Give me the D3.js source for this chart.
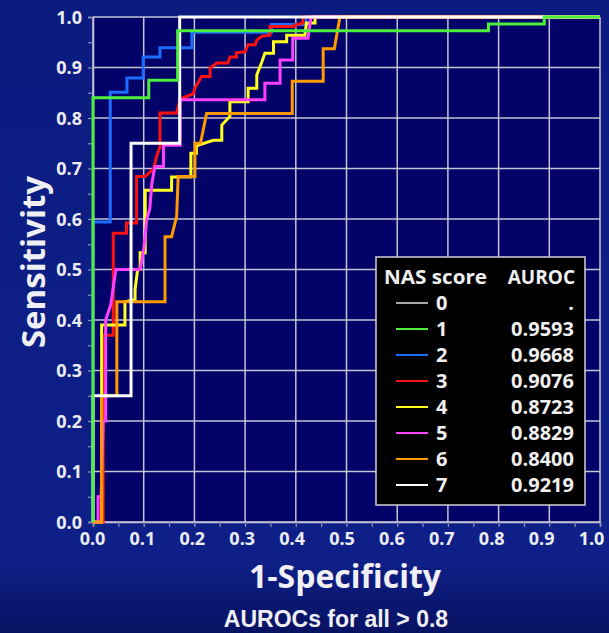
<!DOCTYPE html>
<html>
<head>
<meta charset="utf-8">
<script src="https://cdn.jsdelivr.net/npm/d3@7"></script>
<style>
html,body{margin:0;padding:0;background:#0b1a78;}
svg{display:block;}
</style>
</head>
<body>
<svg id="chart" width="609" height="633" font-family="'Open Sans','DejaVu Sans',sans-serif"></svg>
<script>
// ---------- data ----------
const xTicks = [0,0.1,0.2,0.3,0.4,0.5,0.6,0.7,0.8,0.9,1.0];
const yTicks = [0,0.1,0.2,0.3,0.4,0.5,0.6,0.7,0.8,0.9,1.0];
const nasScores = ["0","1","2","3","4","5","6","7"];
const aurocLabels = [".","0.9593","0.9668","0.9076","0.8723","0.8829","0.8400","0.9219"];
const seriesColors = ["#a8a8a8","#4cf03c","#1c6cff","#ff1010","#ffff20","#ff40ff","#ff9a00","#ffffff"];

const nas0 = [];
const nas1 = [[0,0],[0,0.84],[0.11,0.84],[0.11,0.875],[0.167,0.875],[0.167,0.973],[0.78,0.973],[0.78,0.986],[0.89,0.986],[0.89,1],[1,1]];
const nas2 = [[0,0],[0,0.594],[0.034,0.594],[0.034,0.851],[0.067,0.851],[0.067,0.879],[0.099,0.879],[0.099,0.921],[0.132,0.921],[0.132,0.939],[0.195,0.939],[0.195,0.970],[0.352,0.970],[0.352,0.985],[0.42,0.985],[0.42,1],[1,1]];
const nas3 = [[0,0],[0.02,0],[0.02,0.37],[0.04,0.37],[0.04,0.572],[0.066,0.572],[0.066,0.592],[0.086,0.592],[0.086,0.684],[0.103,0.684],[0.12,0.70],[0.125,0.723],[0.132,0.743],[0.132,0.81],[0.165,0.81],[0.172,0.838],[0.198,0.848],[0.201,0.859],[0.214,0.882],[0.231,0.882],[0.231,0.899],[0.244,0.909],[0.266,0.909],[0.27,0.921],[0.283,0.921],[0.283,0.929],[0.30,0.931],[0.306,0.945],[0.32,0.945],[0.323,0.954],[0.333,0.962],[0.349,0.964],[0.349,0.981],[0.398,0.981],[0.398,0.984],[0.414,0.988],[0.414,1],[1,1]];
const nas4 = [[0,0],[0.017,0],[0.017,0.39],[0.063,0.39],[0.063,0.436],[0.083,0.44],[0.083,0.46],[0.088,0.5],[0.093,0.5],[0.093,0.533],[0.103,0.533],[0.103,0.657],[0.155,0.657],[0.155,0.683],[0.193,0.683],[0.193,0.730],[0.204,0.730],[0.204,0.745],[0.237,0.756],[0.254,0.756],[0.254,0.786],[0.27,0.803],[0.27,0.832],[0.306,0.832],[0.306,0.859],[0.323,0.859],[0.323,0.885],[0.333,0.911],[0.339,0.928],[0.356,0.928],[0.356,0.951],[0.382,0.951],[0.382,0.964],[0.418,0.964],[0.421,0.988],[0.438,0.988],[0.438,1],[1,1]];
const nas5 = [[0,0],[0.01,0],[0.01,0.05],[0.016,0.05],[0.02,0.2],[0.025,0.2],[0.025,0.40],[0.035,0.43],[0.045,0.5],[0.093,0.5],[0.1,0.54],[0.106,0.6],[0.112,0.62],[0.116,0.67],[0.122,0.704],[0.139,0.704],[0.139,0.746],[0.172,0.746],[0.172,0.836],[0.339,0.836],[0.339,0.869],[0.369,0.869],[0.369,0.915],[0.394,0.915],[0.394,0.958],[0.424,0.958],[0.43,1],[1,1]];
const nas6 = [[0,0],[0.017,0],[0.017,0.25],[0.047,0.25],[0.047,0.436],[0.142,0.436],[0.142,0.565],[0.155,0.565],[0.165,0.605],[0.168,0.684],[0.201,0.684],[0.201,0.75],[0.212,0.75],[0.224,0.809],[0.393,0.809],[0.393,0.873],[0.454,0.873],[0.454,0.937],[0.476,0.937],[0.487,1],[1,1]];
const nas7 = [[0,0],[0,0.25],[0.075,0.25],[0.075,0.75],[0.171,0.75],[0.171,1],[1,1]];
const allSeries = [nas0,nas1,nas2,nas3,nas4,nas5,nas6,nas7];
const drawOrder = [2,3,4,5,6,7,1];

// ---------- layout ----------
const W = 609, H = 633;
const svg = d3.select("#chart");
const x = d3.scaleLinear().domain([0,1]).range([93,600]);
const xLab = d3.scaleLinear().domain([0,1]).range([92,591]);
const y = d3.scaleLinear().domain([0,1]).range([522,17]);

// background
const defs = svg.append("defs");
const bg = defs.append("linearGradient").attr("id","bg").attr("x1",0).attr("y1",0).attr("x2",0).attr("y2",1);
bg.append("stop").attr("offset","0%").attr("stop-color","#0b1b80");
bg.append("stop").attr("offset","88%").attr("stop-color","#0e2088");
bg.append("stop").attr("offset","100%").attr("stop-color","#081262");
svg.append("rect").attr("width",W).attr("height",H).attr("fill","url(#bg)");

// plot area
svg.append("rect").attr("x",x(0)).attr("y",y(1)).attr("width",x(1)-x(0)).attr("height",y(0)-y(1)).attr("fill","#020268");

// grid
const grid = svg.append("g").attr("stroke","#c4c4d4").attr("stroke-width",1.5);
grid.selectAll("line.v").data(xTicks).join("line").attr("class","v")
  .attr("x1",d=>x(d)).attr("x2",d=>x(d)).attr("y1",y(0)).attr("y2",y(1));
grid.selectAll("line.h").data(yTicks).join("line").attr("class","h")
  .attr("y1",d=>y(d)).attr("y2",d=>y(d)).attr("x1",x(0)).attr("x2",x(1));

// axes
const minor = d3.range(0,1.0001,0.05);
const xAxis = d3.axisBottom(x).tickValues(minor).tickSize(5).tickFormat("");
const yAxis = d3.axisLeft(y).tickValues(minor).tickSize(5).tickFormat("");
const gx = svg.append("g").attr("transform",`translate(0,${y(0)})`).call(xAxis);
const gy = svg.append("g").attr("transform",`translate(${x(0)},0)`).call(yAxis);
[gx,gy].forEach(g=>{
  g.select(".domain").attr("stroke","#c4c4d4").attr("stroke-width",1.5);
  g.selectAll(".tick line").attr("stroke","#9090b0").attr("stroke-width",1.2);
});
const gxl = svg.append("g").attr("transform",`translate(0,${y(0)})`)
  .call(d3.axisBottom(xLab).tickValues(xTicks).tickSize(0).tickPadding(10).tickFormat(d3.format(".1f")));
const gyl = svg.append("g").attr("transform",`translate(${x(0)},0)`)
  .call(d3.axisLeft(y).tickValues(yTicks).tickSize(0).tickPadding(11).tickFormat(d3.format(".1f")));
[gxl,gyl].forEach(g=>{
  g.select(".domain").remove();
  g.selectAll("text").attr("fill","#ececf4").attr("font-size",18).attr("font-weight",700)
   .attr("font-family","'Open Sans',sans-serif");
});
gyl.selectAll("text").attr("dy","0.35em");

// curves
const line = d3.line().x(d=>x(d[0])).y(d=>y(d[1])).curve(d3.curveLinear);
const curves = svg.append("g").attr("fill","none").attr("stroke-width",3).attr("stroke-linejoin","miter");
drawOrder.forEach(i=>{
  const s = allSeries[i];
  if(!s.length) return;
  curves.append("path").datum(s).attr("d",line).attr("stroke",seriesColors[i]);
});

// axis titles
svg.append("text").attr("x",345).attr("y",588).attr("text-anchor","middle")
  .attr("fill","#f0f0f4").attr("font-size",32).attr("font-weight",700).text("1-Specificity");
svg.append("text").attr("transform",`translate(45,262) rotate(-90)`).attr("text-anchor","middle")
  .attr("fill","#f0f0f4").attr("font-size",33).attr("font-weight",700).text("Sensitivity");
svg.append("text").attr("x",336).attr("y",627).attr("text-anchor","middle")
  .attr("fill","#f0f0f4").attr("font-size",23).attr("font-weight",700)
  .style("font-family","'Liberation Sans',Arial,sans-serif").text("AUROCs for all > 0.8");

// legend
const lg = svg.append("g");
lg.append("rect").attr("x",376).attr("y",257).attr("width",209).attr("height",248)
  .attr("fill","#000000").attr("stroke","#d0d0d8").attr("stroke-width",1.5);
lg.append("text").attr("x",384).attr("y",284).attr("fill","#f0f0f0").attr("font-size",19).attr("font-weight",700)
  .attr("textLength",103).attr("lengthAdjust","spacingAndGlyphs").text("NAS score");
lg.append("text").attr("x",575).attr("y",284).attr("text-anchor","end").attr("fill","#f0f0f0").attr("font-size",19).attr("font-weight",700).text("AUROC");
const rowY = d3.scaleLinear().domain([0,7]).range([303,485]);
const rows = lg.selectAll("g.row").data(nasScores).join("g").attr("class","row")
  .attr("transform",(d,i)=>`translate(0,${rowY(i)})`);
rows.append("line").attr("x1",396).attr("x2",428).attr("y1",0).attr("y2",0)
  .attr("stroke",(d,i)=>seriesColors[i]).attr("stroke-width",2);
rows.append("text").attr("x",436).attr("y",0).attr("dy","0.36em").attr("fill","#f0f0f0")
  .attr("font-size",20).attr("font-weight",700).text(d=>d);
rows.append("text").attr("x",574).attr("y",0).attr("dy","0.36em").attr("text-anchor","end").attr("fill","#f0f0f0")
  .attr("font-size",20).attr("font-weight",700).text((d,i)=>aurocLabels[i]);
</script>
</body>
</html>
